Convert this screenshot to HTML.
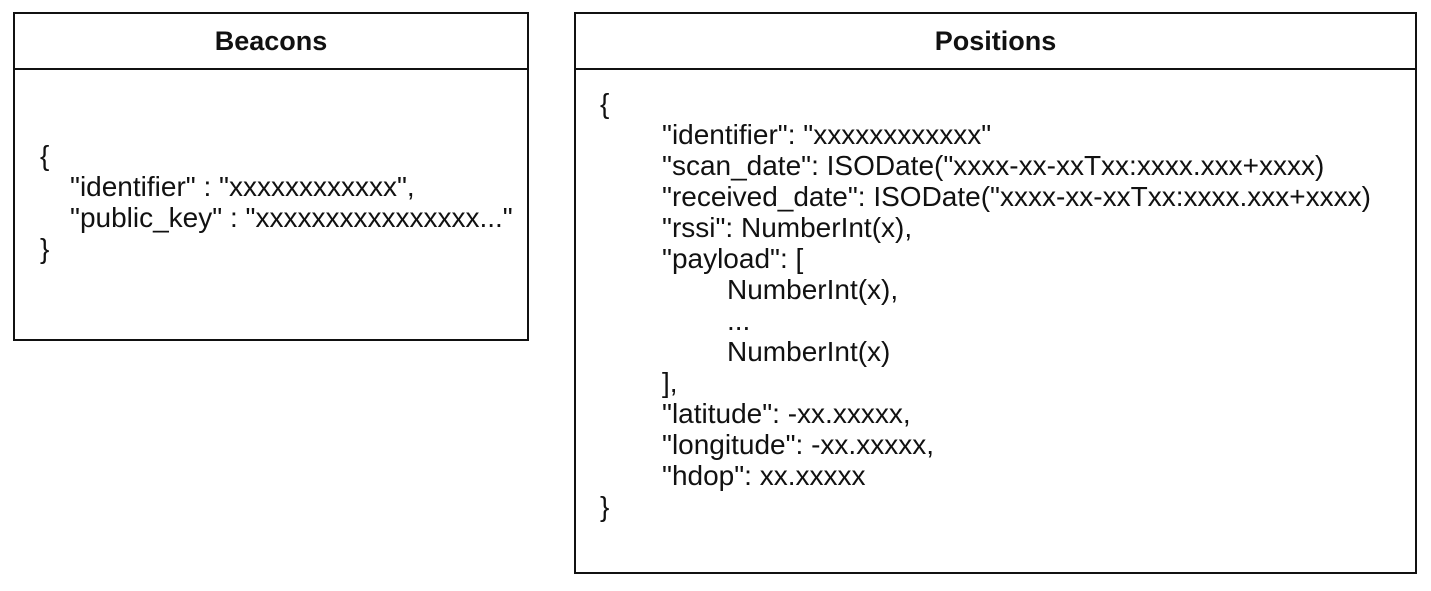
<!DOCTYPE html>
<html><head><meta charset="utf-8"><style>
body{margin:0;width:1431px;height:591px;background:#fff;position:relative;overflow:hidden;font-family:"Liberation Sans",Arial,sans-serif;color:#111}
.box{position:absolute;border:2px solid #111;box-sizing:border-box}
.hd{position:absolute;left:0;right:0;top:0;height:54px;border-bottom:2px solid #111;text-align:center;font-weight:bold;font-size:27px;line-height:54px}
.t{position:absolute;font-size:28px;line-height:31px;white-space:pre}
</style></head><body>
<div class="box" style="left:13px;top:12px;width:516px;height:329px"><div class="hd">Beacons</div></div>
<div class="box" style="left:574px;top:12px;width:843px;height:562px"><div class="hd">Positions</div></div>
<div class="t" style="left:40px;top:140px">{</div>
<div class="t" style="left:70px;top:171px">"identifier" : "xxxxxxxxxxxx",<br>"public_key" : "xxxxxxxxxxxxxxxx..."</div>
<div class="t" style="left:40px;top:233px">}</div>
<div class="t" style="left:600px;top:88px">{</div>
<div class="t" style="left:662px;top:119px">"identifier": "xxxxxxxxxxxx"
"scan_date": ISODate("xxxx-xx-xxTxx:xxxx.xxx+xxxx)
"received_date": ISODate("xxxx-xx-xxTxx:xxxx.xxx+xxxx)
"rssi": NumberInt(x),
"payload": [</div>
<div class="t" style="left:727px;top:274px">NumberInt(x),
...
NumberInt(x)</div>
<div class="t" style="left:662px;top:367px">],
"latitude": -xx.xxxxx,
"longitude": -xx.xxxxx,
"hdop": xx.xxxxx</div>
<div class="t" style="left:600px;top:491px">}</div>
</body></html>
